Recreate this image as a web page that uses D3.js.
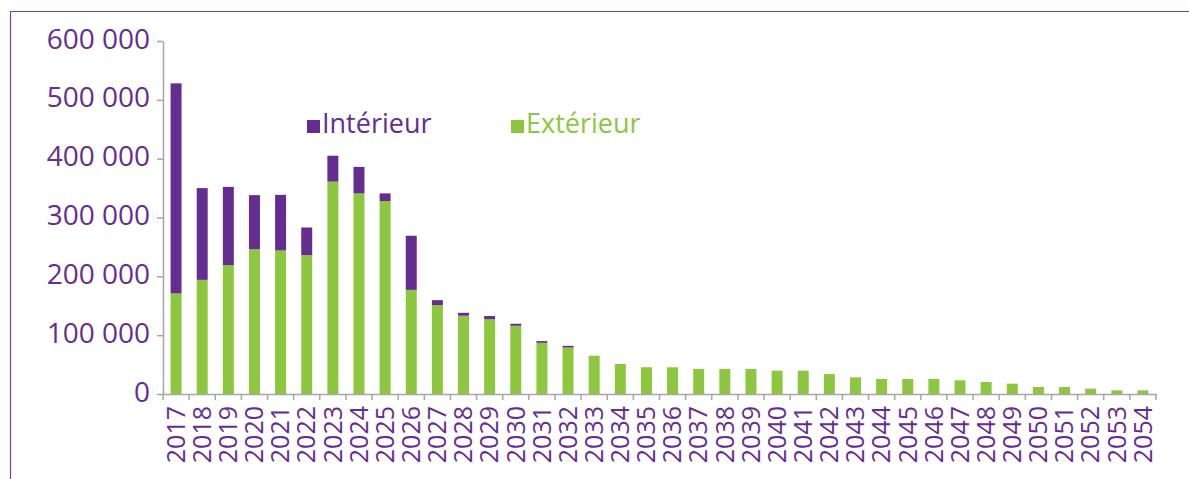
<!DOCTYPE html>
<html>
<head>
<meta charset="utf-8">
<script src="https://cdn.jsdelivr.net/npm/d3@7"></script>
<style>
  body { margin: 0; background: #fff; }
  svg { display: block; }
</style>
</head>
<body>
<svg width="1189" height="479"></svg>
<script>
// years on the x axis
var years = ["2017","2018","2019","2020","2021","2022","2023","2024","2025","2026",
  "2027","2028","2029","2030","2031","2032","2033","2034","2035","2036",
  "2037","2038","2039","2040","2041","2042","2043","2044","2045","2046",
  "2047","2048","2049","2050","2051","2052","2053","2054"];

// green part (bottom)
var exterieur = [171000,194000,219000,246000,244000,236000,361000,341000,328000,177000,
  151000,133000,127000,116000,87000,79000,65000,51000,45500,45500,
  42500,42500,42500,39700,39700,34000,28300,25500,25500,25500,
  23200,20400,17600,11900,11900,9100,6200,6200];

// purple part (top)
var interieur = [357000,156000,133000,92000,94500,47000,44000,45000,13000,92000,
  8500,5000,5500,3400,2900,2900,0,0,0,0,
  0,0,0,0,0,0,0,0,0,0,
  0,0,0,0,0,0,0,0];

var yTicks = [0,100000,200000,300000,400000,500000,600000];
var seriesNames = ["Intérieur","Extérieur"];

var purple = "#662d91";
var green = "#8dc63f";
var font = "'Open Sans', sans-serif";

var svg = d3.select("svg");

// frame around the chart
svg.append("path")
    .attr("d", "M10.5,479 L10.5,11.5 L1189,11.5")
    .attr("fill", "none")
    .attr("stroke", "#7a3fa8")
    .attr("stroke-width", 1.2);

var x = d3.scaleBand()
    .domain(years)
    .range([163, 1156])
    .paddingInner(0.58)
    .paddingOuter(0.29);

var y = d3.scaleLinear()
    .domain([0, 600000])
    .range([394, 41]);

var fr = d3.formatLocale({decimal: ",", thousands: " ", grouping: [3], currency: ["", " €"]});
var fmt = fr.format(",d");

// stack: exterieur first (bottom), interieur on top
var rows = years.map(function (yr, i) {
    return {year: yr, ext: exterieur[i], int: interieur[i]};
});
var stack = d3.stack().keys(["ext", "int"]);
var layers = stack(rows);
var colors = {ext: green, int: purple};

svg.append("g").selectAll("g")
    .data(layers)
    .enter().append("g")
    .attr("fill", function (d) { return colors[d.key]; })
    .selectAll("rect")
    .data(function (d) { return d; })
    .enter().append("rect")
    .attr("x", function (d) { return x(d.data.year); })
    .attr("width", x.bandwidth())
    .attr("y", function (d) { return y(d[1]); })
    .attr("height", function (d) { return y(d[0]) - y(d[1]); });

// y axis
var gY = svg.append("g")
    .attr("transform", "translate(163,0)")
    .call(d3.axisLeft(y).tickValues(yTicks).tickFormat(fmt).tickSizeInner(6).tickSizeOuter(0).tickPadding(7));
gY.select(".domain").attr("stroke", "#a6a6a6").attr("stroke-width", 1.5);
gY.selectAll(".tick line").attr("stroke", "#a6a6a6").attr("stroke-width", 1.5);
gY.selectAll(".tick text")
    .attr("fill", purple)
    .attr("font-family", font)
    .attr("font-size", "28px")
    .attr("dy", "0.25em");

// x axis with ticks at band edges
var gX = svg.append("g")
    .attr("transform", "translate(0,394)")
    .call(d3.axisBottom(x).tickSize(0).tickPadding(0));
gX.select(".domain").attr("stroke", "#a6a6a6").attr("stroke-width", 1.5);
gX.selectAll(".tick text")
    .attr("fill", purple)
    .attr("font-family", font)
    .attr("font-size", "25px")
    .attr("text-anchor", "end")
    .attr("transform", "rotate(-90)")
    .attr("x", -12)
    .attr("y", 0)
    .attr("dy", "0.35em");

var edges = d3.range(years.length + 1).map(function (i) { return 163 + i * (1156 - 163) / years.length; });
gX.selectAll(".edge")
    .data(edges)
    .enter().append("line")
    .attr("class", "edge")
    .attr("x1", function (d) { return d; })
    .attr("x2", function (d) { return d; })
    .attr("y1", 0)
    .attr("y2", 6)
    .attr("stroke", "#a6a6a6")
    .attr("stroke-width", 1.5);

// legend
var legend = [
    {name: seriesNames[0], color: purple, x: 307},
    {name: seriesNames[1], color: green, x: 511}
];
var lg = svg.append("g").selectAll("g")
    .data(legend)
    .enter().append("g")
    .attr("transform", function (d) { return "translate(" + d.x + ",0)"; });
lg.append("rect")
    .attr("x", 0)
    .attr("y", 120)
    .attr("width", 13)
    .attr("height", 13)
    .attr("fill", function (d) { return d.color; });
lg.append("text")
    .attr("x", 15)
    .attr("y", 133)
    .attr("fill", function (d) { return d.color; })
    .attr("font-family", font)
    .attr("font-size", "27px")
    .text(function (d) { return d.name; });
</script>
</body>
</html>
